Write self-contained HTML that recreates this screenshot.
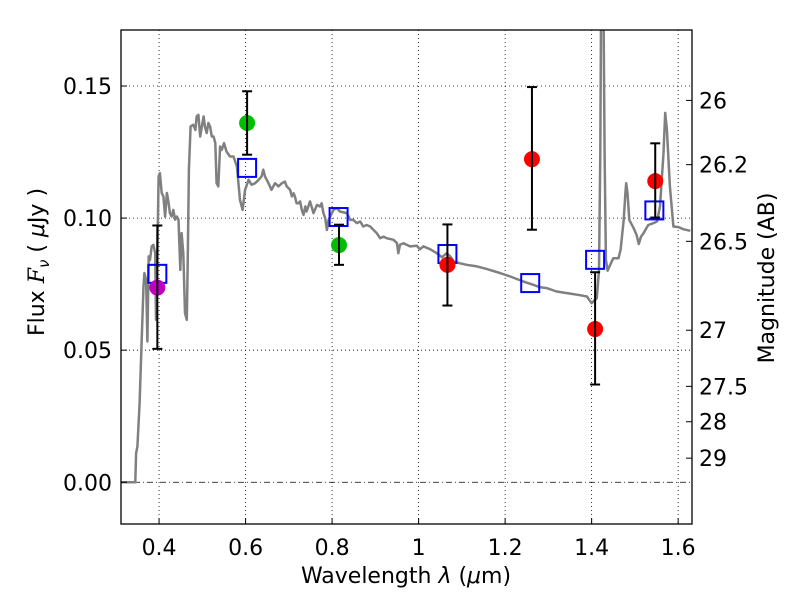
<!DOCTYPE html>
<html><head><meta charset="utf-8"><style>
html,body{margin:0;padding:0;background:#fff;}
svg text{font-family:"DejaVu Sans","Liberation Sans",sans-serif;fill:#000;}
</style></head><body>
<svg id="chart" width="800" height="600" viewBox="0 0 800 600" xmlns="http://www.w3.org/2000/svg">
<defs><clipPath id="plotclip"><rect x="121" y="30" width="571" height="494"/></clipPath></defs>
<rect x="0" y="0" width="800" height="600" fill="#fff"/>
<g id="grid"></g>
<g id="marks" clip-path="url(#plotclip)"></g>
<g id="axes"></g>
</svg>
<script>
const specWl = [0.311,0.345,0.347,0.350,0.355,0.360,0.364,0.366,0.370,0.373,0.376,0.379,0.383,0.387,0.391,0.393,0.396,0.399,0.402,0.406,0.410,0.414,0.418,0.422,0.425,0.429,0.433,0.437,0.441,0.445,0.449,0.452,0.456,0.460,0.464,0.466,0.469,0.473,0.479,0.484,0.487,0.491,0.495,0.499,0.503,0.506,0.510,0.514,0.518,0.522,0.526,0.530,0.533,0.537,0.541,0.545,0.550,0.556,0.564,0.572,0.580,0.587,0.593,0.599,0.607,0.614,0.622,0.630,0.637,0.641,0.645,0.653,0.660,0.668,0.676,0.684,0.691,0.695,0.703,0.707,0.711,0.714,0.718,0.722,0.726,0.730,0.734,0.738,0.741,0.749,0.757,0.765,0.772,0.776,0.780,0.784,0.788,0.792,0.803,0.811,0.818,0.834,0.842,0.849,0.857,0.865,0.872,0.880,0.888,0.896,0.903,0.911,0.919,0.926,0.942,0.950,0.953,0.957,0.965,0.980,0.996,1.003,1.011,1.027,1.042,1.054,1.065,1.073,1.081,1.096,1.111,1.135,1.158,1.188,1.212,1.242,1.266,1.281,1.296,1.319,1.343,1.373,1.389,1.400,1.412,1.417,1.420,1.422,1.427,1.430,1.433,1.437,1.443,1.450,1.462,1.467,1.474,1.478,1.480,1.483,1.487,1.497,1.504,1.509,1.514,1.520,1.524,1.531,1.543,1.551,1.558,1.566,1.570,1.574,1.581,1.589,1.601,1.612,1.628];
const specFlux = [0.000,0.000,0.0110,0.0135,0.0299,0.0552,0.0741,0.0792,0.0766,0.0533,0.0855,0.0842,0.0893,0.0899,0.0867,0.0615,0.0842,0.1158,0.1170,0.1095,0.1082,0.1006,0.1095,0.1057,0.1019,0.1006,0.1031,0.0994,0.1006,0.0994,0.0804,0.0943,0.0867,0.0640,0.0615,0.0804,0.1183,0.1347,0.1353,0.1334,0.1385,0.1391,0.1309,0.1347,0.1385,0.1347,0.1322,0.1360,0.1347,0.1309,0.1309,0.1284,0.1132,0.1120,0.1271,0.1258,0.1284,0.1252,0.1233,0.1233,0.1195,0.1069,0.1031,0.1107,0.1145,0.1126,0.1132,0.1145,0.1158,0.1183,0.1158,0.1132,0.1107,0.1132,0.1120,0.1132,0.1138,0.1120,0.1107,0.1082,0.1094,0.1082,0.1056,0.1056,0.1063,0.1031,0.1012,0.1044,0.1025,0.1063,0.1019,0.1050,0.1044,0.1056,0.1019,0.1000,0.0955,0.0993,0.1031,0.1038,0.1025,0.1019,0.0993,0.0993,0.0981,0.0987,0.0968,0.0974,0.0968,0.0955,0.0943,0.0924,0.0930,0.0924,0.0918,0.0905,0.0867,0.0899,0.0905,0.0893,0.0895,0.0882,0.0893,0.0882,0.0867,0.0852,0.0867,0.0855,0.0836,0.0829,0.0823,0.0817,0.0807,0.0792,0.0779,0.0760,0.0747,0.0738,0.0735,0.0722,0.0716,0.0708,0.0703,0.0678,0.0697,0.0804,0.1246,0.19,0.19,0.1246,0.0842,0.0801,0.0823,0.0848,0.0848,0.0880,0.0993,0.1095,0.1132,0.1095,0.0993,0.0962,0.0936,0.0902,0.0930,0.0943,0.0955,0.0974,0.0981,0.0987,0.1044,0.1246,0.1398,0.1335,0.1120,0.0968,0.0966,0.0958,0.0952];
const obsWl = [0.396,0.6035,0.816,1.0666,1.262,1.408,1.547];
const obsFlux = [0.0737,0.136,0.0898,0.0823,0.1223,0.058,0.114];
const obsErrHi = [0.0972,0.148,0.0975,0.0976,0.1496,0.0795,0.1283];
const obsErrLo = [0.0505,0.124,0.0823,0.0669,0.0956,0.037,0.1002];
const obsColor = ["#bf00bf","#00bf00","#00bf00","#ff0000","#ff0000","#ff0000","#ff0000"];
const modelWl = [0.396,0.6035,0.815,1.0666,1.258,1.408,1.545];
const modelFlux = [0.0789,0.119,0.1004,0.0864,0.0754,0.0842,0.1029];
const xTicks = [0.4,0.6,0.8,1.0,1.2,1.4,1.6];
const xTickLabels = ["0.4","0.6","0.8","1","1.2","1.4","1.6"];
const yTicks = [0.0,0.05,0.10,0.15];
const yTickLabels = ["0.00","0.05","0.10","0.15"];
const magTicks = [26,26.2,26.5,27,27.5,28,29];
const magTickLabels = ["26","26.2","26.5","27","27.5","28","29"];

const L=121,R=692,T=30,B=524;
const xMin=0.312,xMax=1.632,yMin=-0.0158,yMax=0.1712;
function X(v){return L+(v-xMin)/(xMax-xMin)*(R-L);}
function Y(v){return B-(v-yMin)/(yMax-yMin)*(B-T);}
function magToFlux(m){return Math.pow(10,(23.9-m)/2.5);}
const NS="http://www.w3.org/2000/svg";
function mk(tag,attrs,parent){const e=document.createElementNS(NS,tag);for(const k in attrs)e.setAttribute(k,attrs[k]);parent.appendChild(e);return e;}
const grid=document.getElementById('grid'),marks=document.getElementById('marks'),axes=document.getElementById('axes');

xTicks.forEach((t,i)=>{
  const g=mk('line',{x1:X(t),x2:X(t),y1:T,y2:B,stroke:'#000','stroke-width':0.8,'stroke-dasharray':'1,3'},grid);
  
  
  const tk=mk('line',{x1:X(t),x2:X(t),y1:B,y2:B-6,stroke:'#000','stroke-width':1},axes);
  
  
  const tx=mk('text',{x:X(t),y:B+31,'font-size':22,'text-anchor':'middle'},axes);
  tx.textContent=xTickLabels[i];
  
  
});
yTicks.forEach((t,i)=>{
  const isZero=t===0;
  const g=mk('line',{x1:L,x2:R,y1:Y(t),y2:Y(t),stroke:'#000','stroke-width':0.8,'stroke-dasharray':isZero?'6,3,1,3':'1,3'},grid);
  
  
  const tk=mk('line',{x1:L,x2:L+6,y1:Y(t),y2:Y(t),stroke:'#000','stroke-width':1},axes);
  
  
  const tx=mk('text',{x:L-9,y:Y(t)+8,'font-size':22,'text-anchor':'end'},axes);
  tx.textContent=yTickLabels[i];
  
  
});
magTicks.forEach((m,i)=>{
  const y=Y(magToFlux(m));
  const tk=mk('line',{x1:R,x2:R-6,y1:y,y2:y,stroke:'#000','stroke-width':1},axes);
  
  
  const tx=mk('text',{x:R+7,y:y+8,'font-size':22,'text-anchor':'start'},axes);
  tx.textContent=magTickLabels[i];
  
  
});

const pts=specWl.map((w,i)=>X(w).toFixed(1)+','+Y(specFlux[i]).toFixed(1)).join(' ');
const sp=mk('polyline',{points:pts,fill:'none',stroke:'#808080','stroke-width':2.5,'stroke-linejoin':'round'},marks);



modelWl.forEach((w,i)=>{
  const r=mk('rect',{x:X(w)-9,y:Y(modelFlux[i])-9,width:18,height:18,fill:'none',stroke:'#0000ff','stroke-width':2},marks);
  
  
});
obsWl.forEach((w,i)=>{
  const x=X(w);
  const c=mk('circle',{cx:x,cy:Y(obsFlux[i]),r:8,fill:obsColor[i]},marks);
  
  
  const e=mk('line',{x1:x,x2:x,y1:Y(obsErrHi[i]),y2:Y(obsErrLo[i]),stroke:'#000','stroke-width':2},marks);
  
  
  [obsErrHi[i],obsErrLo[i]].forEach(v=>{
    const cap=mk('line',{x1:x-5,x2:x+5,y1:Y(v),y2:Y(v),stroke:'#000','stroke-width':2},marks);
    
    
  });
});

const fr=mk('rect',{x:L,y:T,width:R-L,height:B-T,fill:'none',stroke:'#000','stroke-width':1.3},axes);


const xl=mk('text',{x:406,y:583,'font-size':22,'text-anchor':'middle'},axes);
xl.innerHTML='Wavelength  <tspan font-style="italic">λ</tspan> (<tspan font-style="italic">μ</tspan>m)';


const yl=mk('text',{x:0,y:0,'font-size':22,'text-anchor':'middle',transform:'translate(44,262) rotate(-90)'},axes);
yl.innerHTML='Flux  <tspan font-style="italic" font-family="DejaVu Serif, serif">F</tspan><tspan font-size="15" dy="5" font-style="italic">ν</tspan><tspan dy="-5">  (  <tspan font-style="italic">μ</tspan>Jy )</tspan>';


const ml=mk('text',{x:0,y:0,'font-size':22,'text-anchor':'middle',transform:'translate(774,278) rotate(-90)'},axes);
ml.textContent='Magnitude (AB)';


</script>
</body></html>
